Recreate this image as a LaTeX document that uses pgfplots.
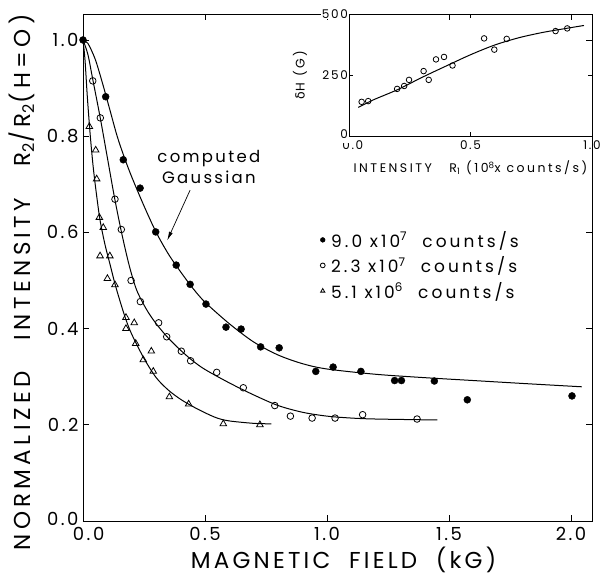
\documentclass[border=0pt]{standalone}
\usepackage{pgfplots}
\pgfplotsset{compat=1.18}
\usepackage{fontspec}
\setmainfont{Poppins}[LetterSpace=14]
\newfontfamily\dejavu{DejaVu Sans}
\usetikzlibrary{arrows.meta,calc}
\begin{document}
\begin{tikzpicture}
\begin{axis}[name=main, at={(0,0)}, anchor=south west,
  scale only axis, width=509pt, height=507pt,
  xmin=0, xmax=2.086, ymin=0, ymax=1.054,
  xtick={0,0.5,1,1.5,2}, xticklabels={\hphantom{0}0.0,0.5,1.0,1.5,2.0},
  ytick={0,0.2,0.4,0.6,0.8,1.0}, yticklabels={\raisebox{4pt}{0.0},0.2,0.4,0.6,0.8,1.0},
  tick align=inside, major tick length=6pt,
  axis line style={line width=0.8pt},
  every tick/.style={black, line width=0.8pt},
  ticklabel style={font=\fontsize{18}{18}\selectfont},
  xticklabel style={yshift=-3pt},
  yticklabel style={xshift=-1pt},
  every axis x label/.style={at={(rel axis cs:0.5,0)}, yshift=-39pt, xshift=6pt, anchor=center,
    font=\fontsize{23}{23}\selectfont\addfontfeature{LetterSpace=14}},
  every axis y label/.style={at={(rel axis cs:0,0.5)}, xshift=-61pt, yshift=-15pt, rotate=90, anchor=center,
    font=\fontsize{23}{23}\selectfont\addfontfeature{LetterSpace=19}},
  xlabel={MAGNETIC\ \ FIELD\ \ (kG)},
  ylabel={NORMALIZED\ \ \ INTENSITY\ \ \ R\textsubscript{2}/R\textsubscript{2}(H=O)},
  legend style={draw=none, fill=none, at={(0.46,0.58)}, anchor=north west,
    font=\fontsize{17}{22}\selectfont\addfontfeature{LetterSpace=18}, row sep=4pt,
    /tikz/every odd column/.append style={column sep=4pt}},
  legend cell align=left,
  legend image post style={mark size=2.4pt},
]
% fitted curves
\addplot[black, line width=1pt, smooth, forget plot] coordinates {
(0,1.0)(0.02,0.993)(0.05,0.96)(0.08,0.91)(0.11,0.855)(0.14,0.80)(0.17,0.755)(0.2,0.715)(0.25,0.655)(0.3,0.6)(0.35,0.555)(0.4,0.518)(0.45,0.484)(0.5,0.455)(0.6,0.41)(0.7,0.372)(0.8,0.345)(0.9,0.327)(1.0,0.316)(1.2,0.305)(1.4,0.298)(1.6,0.292)(1.8,0.286)(2.044,0.279)};
\addplot[black, line width=1pt, smooth, forget plot] coordinates {
(0,1.0)(0.02,0.97)(0.04,0.918)(0.07,0.84)(0.1,0.755)(0.13,0.67)(0.16,0.595)(0.19,0.53)(0.22,0.48)(0.26,0.44)(0.3,0.41)(0.35,0.38)(0.4,0.355)(0.45,0.333)(0.5,0.315)(0.6,0.287)(0.7,0.262)(0.8,0.24)(0.9,0.226)(1.0,0.218)(1.1,0.214)(1.2,0.212)(1.452,0.21)};
\addplot[black, line width=1pt, smooth, forget plot] coordinates {
(0,1.0)(0.008,0.96)(0.018,0.88)(0.03,0.80)(0.042,0.735)(0.055,0.68)(0.07,0.625)(0.09,0.575)(0.11,0.535)(0.13,0.495)(0.15,0.46)(0.175,0.42)(0.2,0.388)(0.25,0.338)(0.3,0.298)(0.35,0.272)(0.4,0.253)(0.45,0.238)(0.5,0.225)(0.55,0.214)(0.6,0.208)(0.7,0.203)(0.772,0.202)};
% data
\addplot[only marks, mark=*, mark size=3.5pt, black] coordinates {
(0,1.0)(0.093,0.882)(0.165,0.751)(0.234,0.692)(0.298,0.601)(0.382,0.532)(0.439,0.492)(0.504,0.451)(0.586,0.403)(0.648,0.399)(0.728,0.362)(0.804,0.360)(0.954,0.311)(1.025,0.320)(1.139,0.311)(1.277,0.292)(1.305,0.292)(1.440,0.291)(1.575,0.252)(2.004,0.260)};
\addlegendentry{9.0 x10\textsuperscript{7}\ \ counts/s}
\addplot[only marks, mark=o, mark size=3.3pt, black, mark options={fill=white, line width=0.8pt}] coordinates {
(0.040,0.915)(0.071,0.838)(0.131,0.669)(0.157,0.606)(0.197,0.500)(0.235,0.456)(0.310,0.412)(0.343,0.383)(0.403,0.353)(0.441,0.333)(0.548,0.309)(0.657,0.277)(0.786,0.240)(0.850,0.218)(0.939,0.214)(1.033,0.214)(1.146,0.221)(1.369,0.212)};
\addlegendentry{2.3 x10\textsuperscript{7}\ \ counts/s}
\addplot[only marks, mark=triangle, mark size=3.8pt, black, mark options={fill=white, line width=0.8pt}] coordinates {
(0.026,0.820)(0.052,0.771)(0.056,0.711)(0.067,0.631)(0.083,0.610)(0.070,0.551)(0.110,0.551)(0.100,0.504)(0.131,0.491)(0.176,0.423)(0.210,0.412)(0.176,0.400)(0.216,0.369)(0.280,0.353)(0.247,0.335)(0.288,0.311)(0.354,0.258)(0.433,0.243)(0.575,0.202)(0.725,0.200)};
\addlegendentry{5.1 x10\textsuperscript{6}\ \ counts/s}
\node[align=center, font=\fontsize{16.5}{21}\selectfont] at (axis cs:0.516,0.736) {computed\\Gaussian};
\draw[line width=0.7pt, -{Latex[length=9pt,width=4pt]}] (axis cs:0.439,0.688) -- (axis cs:0.345,0.583);
\end{axis}
\begin{axis}[at={(266pt,385pt)}, anchor=south west,
  scale only axis, width=243pt, height=122pt,
  xmin=0, xmax=1, ymin=0, ymax=500,
  xtick={0,0.5,1}, xticklabels={\hphantom{0}0.0,0.5,1.0},
  ytick={0,250,500}, yticklabels={\raisebox{3pt}{0},250,500},
  tick align=inside, major tick length=4pt,
  axis line style={line width=0.8pt},
  every tick/.style={black, line width=0.8pt},
  ticklabel style={font=\fontsize{12}{12}\selectfont},
  xticklabel style={yshift=-1pt},
  yticklabel style={fill=white, inner sep=1pt},
  every axis x label/.style={at={(rel axis cs:0.5,0)}, yshift=-32pt, anchor=center},
  every axis y label/.style={at={(rel axis cs:0,0.5)}, xshift=-49pt, rotate=90, anchor=center},
  label style={font=\fontsize{12.5}{12.5}\selectfont\addfontfeature{LetterSpace=20}},
  xlabel={INTENSITY\ \ \ R\textsubscript{1}\ (10\textsuperscript{8}x counts/s)},
  ylabel={{\dejavu δ}H (G)},
]
\addplot[black, line width=1pt, smooth] coordinates {
(0.038,117)(0.1,148)(0.2,190)(0.3,240)(0.4,287)(0.5,333)(0.6,373)(0.7,403)(0.8,425)(0.9,442)(0.967,453)};
\addplot[only marks, mark=o, mark size=2.8pt, black, mark options={fill=white, line width=0.8pt}] coordinates {
(0.052,140)(0.079,143)(0.198,193)(0.227,205)(0.247,230)(0.307,266)(0.328,230)(0.358,314)(0.391,324)(0.426,289)(0.556,400)(0.598,354)(0.649,398)(0.850,430)(0.898,441)};
\end{axis}
\path ($(main.south west)+(-83pt,-58pt)$) rectangle ($(main.north east)+(13pt,14pt)$);
\end{tikzpicture}
\end{document}
